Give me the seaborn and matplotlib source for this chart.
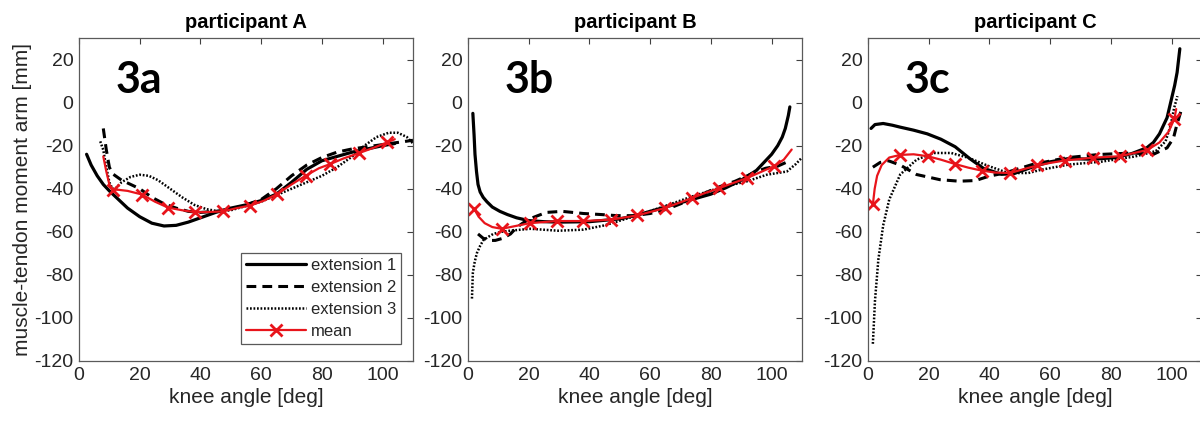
import numpy as np
import pandas as pd
import seaborn as sns
import matplotlib.pyplot as plt

# participant A
a_x1 = [2.5, 4, 6, 8, 10, 13, 16, 20, 24, 28, 32, 36, 40, 45, 50, 55, 60, 65, 70, 75, 80, 85, 90, 95, 100, 104]
a_e1 = [-24, -29, -34, -38, -41, -45, -49, -53, -56, -57.3, -57, -55.5, -53.5, -51, -49, -47.5, -45.5, -42.5, -37, -31, -27, -25, -23, -21.5, -20, -19]
a_x2 = [8, 9, 10, 11, 12, 14, 17, 20, 24, 28, 32, 36, 40, 45, 50, 55, 60, 65, 70, 75, 80, 85, 90, 95, 100, 105, 110]
a_e2 = [-12, -22, -30, -33, -34, -36, -38, -40, -44, -47, -49, -50.5, -51, -50.5, -49.5, -47.5, -45, -40, -34, -29, -25.5, -23, -21.5, -20.5, -19.5, -18.5, -17.5]
a_x3 = [7, 8, 9, 10, 11, 12, 14, 17, 20, 23, 26, 30, 34, 38, 42, 46, 50, 55, 60, 65, 70, 75, 80, 85, 90, 94, 98, 102, 105, 108, 110]
a_e3 = [-18, -22, -30, -37, -40, -40, -37, -34.5, -33.5, -34, -36, -40, -44, -47.5, -49.5, -50.5, -50, -48, -46, -43, -40, -37, -34, -30, -25, -20, -16, -14, -14, -16, -19]
a_xm = [8, 9, 10, 11.2, 13, 16, 20.8, 25, 29.4, 34, 38.3, 43, 47.5, 52, 56.4, 61, 65.3, 70, 74.6, 79, 82.8, 87, 92.1, 97, 101.6, 104]
a_m = [-25, -32, -38, -40.4, -40.5, -41, -42.7, -46, -48.8, -50, -50.9, -50.8, -50.5, -49, -47.8, -45.5, -42.4, -38, -34, -30.5, -28.5, -26, -23.5, -21, -18.4, -17]
a_marks = [3, 6, 8, 10, 12, 14, 16, 18, 20, 22, 24]

# participant B
b_x1 = [1.6, 2, 2.3, 2.8, 3.3, 4, 5, 6.2, 8, 10.5, 13, 16, 20, 25, 30, 40, 50, 55, 60, 65, 70, 75, 80, 85, 90, 95, 98, 100, 102, 103.5, 104.5, 105.5, 106]
b_e1 = [-5, -15, -24, -32, -38, -41.5, -44, -46, -48.5, -50.5, -52, -53.5, -54.8, -55.3, -55.5, -55.3, -54, -52.5, -50.5, -48.5, -46.5, -44.5, -42.5, -39.5, -36, -31.5, -27, -24, -20, -16, -12, -6, -2]
b_x2 = [3.3, 5, 7.2, 9, 11.5, 14, 16, 18, 20.3, 23, 25.8, 31, 38, 44, 49, 54.6, 60, 65.5, 70, 74, 78, 83, 88, 92, 95, 98, 102, 106]
b_e2 = [-61, -63, -64, -64, -63, -61, -58, -56, -54, -52.5, -51, -50.5, -51.5, -52, -52.5, -52.5, -51.5, -49.5, -47, -44.5, -42, -39, -36.5, -34, -32, -30.5, -29.5, -27]
b_x3 = [1.3, 1.6, 2.2, 2.9, 4, 5, 6.5, 8.3, 11, 13.8, 20.5, 29.7, 38, 45, 54.3, 64, 74, 83, 92, 98.4, 105, 108, 110]
b_e3 = [-91, -79, -74, -70, -66.5, -64, -62.5, -61, -60, -59.5, -58.6, -59.5, -59, -57, -53, -48.5, -43.5, -39.5, -36.5, -33.5, -32, -28.5, -25.5]
b_xm = [2, 3.5, 5.5, 8, 11.1, 15, 20.3, 29.2, 38, 47, 55.7, 60, 65, 69, 73.8, 78, 82.6, 87, 91.8, 96, 100.7, 104, 106.6]
b_m = [-49.3, -53, -56, -57.8, -58.6, -57.5, -56, -55, -55, -54.4, -52.4, -50.8, -48.9, -46.8, -44.3, -42, -39.8, -37.5, -35.1, -32.5, -29.6, -26.5, -21.8]
b_marks = [0, 4, 6, 7, 8, 9, 10, 12, 14, 16, 18, 20]

# participant C
c_x1 = [1, 2.3, 5, 8, 10.6, 15, 19.5, 24, 28.7, 33.5, 38, 44, 48, 55, 60, 66, 74, 82, 87, 91.8, 94, 96, 98.5, 100, 101, 101.8, 102.7]
c_e1 = [-12, -10.2, -9.7, -10.5, -11.4, -12.8, -14.5, -17, -20.5, -26, -30.5, -33.3, -33, -29.5, -27.5, -26, -26.3, -25.5, -23.6, -21, -18.5, -14.5, -7, 2, 8, 14, 25]
c_x2 = [1.6, 4, 6.7, 10.6, 16, 23.7, 30, 35.4, 39.8, 45, 54, 65.5, 76, 87.3, 94, 98.5, 100.6, 101.7, 103]
c_e2 = [-30, -27.8, -27, -29, -33.4, -35.8, -36.5, -36.2, -34.2, -32.7, -28.8, -25.6, -24.1, -23.4, -24, -21, -16.5, -10.4, -4.3]
c_x3 = [1.6, 2.3, 3.4, 5, 7, 10.6, 16, 21.7, 27.4, 33, 39.6, 46.2, 52.8, 57, 66, 77, 88, 94.8, 98, 99.7, 100.8, 101.9]
c_e3 = [-112, -92, -73, -57, -45, -33.4, -26.5, -23.4, -23.4, -25.6, -29.4, -32.7, -32.7, -31.2, -28.8, -27.4, -25, -22.5, -18, -10.4, -2.6, 3]
c_xm = [1.6, 2.2, 3, 4.5, 7, 10.6, 15, 19.6, 24, 28.6, 33, 37.5, 42, 46.8, 51, 55.8, 60, 64.8, 74, 83, 92, 96, 99, 100.9, 101.5]
c_m = [-47.3, -40, -34, -29, -25.5, -24.3, -24, -24.9, -26.5, -28.5, -30.2, -31.6, -32.5, -32.7, -31, -29.2, -28, -26.9, -25.6, -24.9, -22, -18.5, -13.5, -7.6, -3]
c_marks = [0, 5, 7, 9, 11, 13, 15, 17, 18, 19, 20, 23]

titles = ["participant A", "participant B", "participant C"]
tags = ["3a", "3b", "3c"]

panels = [
    (a_x1, a_e1, a_x2, a_e2, a_x3, a_e3, a_xm, a_m, a_marks),
    (b_x1, b_e1, b_x2, b_e2, b_x3, b_e3, b_xm, b_m, b_marks),
    (c_x1, c_e1, c_x2, c_e2, c_x3, c_e3, c_xm, c_m, c_marks),
]

sns.set_style("white")
plt.rcParams["font.family"] = ["Liberation Sans", "DejaVu Sans"]
plt.rcParams["axes.unicode_minus"] = False

fig = plt.figure(figsize=(12, 4.21), dpi=100)
lefts = [79, 468, 868]
axes = [fig.add_axes([l / 1200, 1 - 361 / 421, 334 / 1200, 323 / 421]) for l in lefts]

grey = "#262626"
red = "#e8141b"
for i, ax in enumerate(axes):
    x1, e1, x2, e2, x3, e3, xm, m, marks = panels[i]
    sns.lineplot(x=x1, y=e1, ax=ax, color="black", lw=2.3, estimator=None, label="extension 1")
    sns.lineplot(x=x2, y=e2, ax=ax, color="black", lw=2.2, linestyle=(0, (3.2, 2.0)), estimator=None, label="extension 2")
    sns.lineplot(x=x3, y=e3, ax=ax, color="black", lw=1.8, linestyle=(0, (0.7, 0.7)), estimator=None, label="extension 3")
    sns.lineplot(x=xm, y=m, ax=ax, color=red, lw=1.6, marker="x", markersize=8, markeredgewidth=2,
                 markeredgecolor=red, markevery=marks, estimator=None, label="mean")

    ax.set_xlim(0, 110)
    ax.set_ylim(-120, 30)
    ax.set_xticks(range(0, 101, 20))
    ax.set_yticks(range(-120, 21, 20))
    ax.tick_params(direction="in", top=True, right=True, length=4, width=0.8,
                   labelsize=14, colors="#404040", labelcolor=grey, pad=4)
    for s in ax.spines.values():
        s.set_color("#5a5a5a")
        s.set_linewidth(0.9)
    ax.set_xlabel("knee angle [deg]", fontsize=15, color=grey, labelpad=3)
    ax.set_title(titles[i], fontsize=14.5, fontweight="bold", color="black", pad=7)
    ax.text(0.11, 0.87, tags[i], transform=ax.transAxes, fontsize=31, fontweight="bold",
            color="black", family=["Lato", "DejaVu Sans"], va="center", ha="left")
    if i == 0:
        ax.set_ylabel("muscle-tendon moment arm [mm]", fontsize=15, color=grey, labelpad=2)
        leg = ax.legend(loc="lower right", bbox_to_anchor=(0.964, 0.053), borderaxespad=0,
                        fontsize=12, handlelength=3.6, handletextpad=0.3,
                        borderpad=0.3, labelspacing=0.42, fancybox=False, numpoints=1)
        leg.get_frame().set_edgecolor("#303030")
        leg.get_frame().set_linewidth(0.9)
    else:
        ax.set_ylabel("")
        ax.get_legend().remove()

fig.savefig("out.png", dpi=100)
